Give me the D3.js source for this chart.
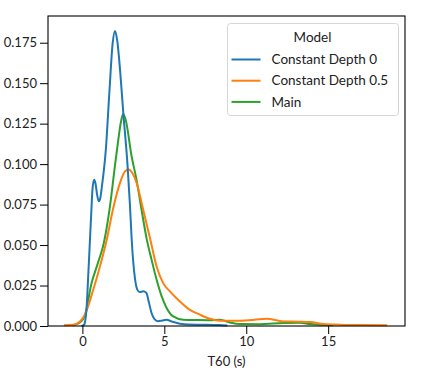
<!DOCTYPE html>
<html>
<head>
<meta charset="utf-8">
<script src="https://cdn.jsdelivr.net/npm/d3@7"></script>
<style>
  body { margin: 0; background: #fff; }
  svg { font-family: Lato, "Open Sans", sans-serif; }
</style>
</head>
<body>
<svg id="chart" width="428" height="370"></svg>
<script>
// KDE curves: T60 (s) vs density
var depth0X = [-0.05, 0.1, 0.15, 0.26, 0.35, 0.46, 0.55, 0.62, 0.72, 0.8, 0.9, 1.0, 1.07, 1.2, 1.43, 1.65, 1.85, 1.99, 2.13, 2.3, 2.5, 2.75, 2.9, 3.0, 3.1, 3.2, 3.35, 3.5, 3.71, 3.9, 4.05, 4.22, 4.4, 4.6, 4.85, 5.14, 5.45, 5.95, 6.5, 7.5, 8.3, 8.85];
var depth0Y = [0.0, 0.0008, 0.002, 0.012, 0.03, 0.053, 0.072, 0.085, 0.0903, 0.088, 0.081, 0.077, 0.078, 0.087, 0.109, 0.145, 0.175, 0.1823, 0.176, 0.158, 0.131, 0.1, 0.075, 0.055, 0.04, 0.03, 0.0225, 0.021, 0.0214, 0.0205, 0.015, 0.008, 0.0042, 0.003, 0.0033, 0.0038, 0.0028, 0.0014, 0.0009, 0.0008, 0.0006, 0.0003];

var depth05X = [-1.13, -0.56, -0.15, 0.15, 0.66, 1.07, 1.48, 1.88, 2.29, 2.6, 2.82, 3.05, 3.31, 3.71, 4.12, 4.53, 4.93, 5.34, 5.95, 6.56, 7.17, 7.78, 8.39, 9.6, 10.5, 11.24, 12.26, 13.28, 13.9, 14.7, 15.7, 17.0, 18.6];
var depth05Y = [0.0005, 0.0008, 0.0028, 0.007, 0.0224, 0.0368, 0.053, 0.0728, 0.0883, 0.0955, 0.0967, 0.0945, 0.0883, 0.0718, 0.0545, 0.0368, 0.0265, 0.0214, 0.0152, 0.01, 0.007, 0.0045, 0.0033, 0.0033, 0.0038, 0.0045, 0.0028, 0.0027, 0.0025, 0.0012, 0.0008, 0.0006, 0.0004];

var mainX = [-0.6, -0.15, 0.15, 0.56, 0.95, 1.3, 1.68, 1.98, 2.19, 2.35, 2.49, 2.65, 3.0, 3.31, 3.61, 3.92, 4.22, 4.53, 4.84, 5.14, 5.54, 6.15, 7.0, 7.78, 8.4, 9.0, 9.6, 10.8, 12.26, 13.28, 13.9, 14.5, 15.3];
var mainY = [0.0005, 0.0022, 0.0064, 0.0265, 0.039, 0.051, 0.0738, 0.0985, 0.115, 0.126, 0.1309, 0.127, 0.105, 0.09, 0.0718, 0.054, 0.041, 0.0286, 0.0183, 0.0111, 0.0059, 0.0039, 0.0037, 0.0036, 0.0039, 0.0022, 0.0012, 0.0011, 0.0018, 0.002, 0.0012, 0.0008, 0.0004];

var models = ['Constant Depth 0', 'Constant Depth 0.5', 'Main'];
var colors = ['#1f77b4', '#ff7f0e', '#2ca02c'];
var xTicks = [0, 5, 10, 15];
var yTicks = [0, 0.025, 0.05, 0.075, 0.1, 0.125, 0.15, 0.175];

(function() {
  var series = [
    {name: models[0], color: colors[0], values: d3.zip(depth0X, depth0Y)},
    {name: models[1], color: colors[1], values: d3.zip(depth05X, depth05Y)},
    {name: models[2], color: colors[2], values: d3.zip(mainX, mainY)}
  ];

  var svg = d3.select('#chart');
  var x0 = 48, x1 = 405, y0 = 16, y1 = 326;

  var x = d3.scaleLinear().domain([-2.1, 19.69]).range([x0, x1]);
  var y = d3.scaleLinear().domain([0, 0.1915]).range([y1, y0]);

  var line = d3.line()
    .x(function(d) { return x(d[0]); })
    .y(function(d) { return y(d[1]); })
    .curve(d3.curveMonotoneX);

  // seaborn draws hue levels in reverse, first level ends up on top
  svg.append('g')
    .selectAll('path')
    .data(series.slice().reverse())
    .join('path')
      .attr('fill', 'none')
      .attr('stroke', function(d) { return d.color; })
      .attr('stroke-width', 2)
      .attr('stroke-linejoin', 'round')
      .attr('d', function(d) { return line(d.values); });

  var xAxis = svg.append('g')
    .attr('transform', 'translate(0,' + y1 + ')')
    .call(d3.axisBottom(x).tickValues(xTicks).tickSize(8).tickPadding(3).tickFormat(d3.format('d')));
  var yAxis = svg.append('g')
    .attr('transform', 'translate(' + x0 + ',0)')
    .call(d3.axisLeft(y).tickValues(yTicks).tickSize(8).tickPadding(3).tickFormat(d3.format('.3f')));

  [xAxis, yAxis].forEach(function(g) {
    g.select('.domain').remove();
    g.selectAll('text').attr('font-size', 13).attr('font-family', 'Lato, sans-serif').attr('fill', '#222');
    g.selectAll('line').attr('stroke', '#000').attr('stroke-width', 1);
  });

  // frame (all four spines)
  svg.append('rect')
    .attr('x', x0).attr('y', y0)
    .attr('width', x1 - x0).attr('height', y1 - y0)
    .attr('fill', 'none').attr('stroke', '#000').attr('stroke-width', 1.1);

  svg.append('text')
    .attr('x', (x0 + x1) / 2).attr('y', 366)
    .attr('text-anchor', 'middle')
    .attr('font-size', 13).attr('fill', '#222')
    .text('T60 (s)');

  // legend
  var legend = svg.append('g');
  legend.append('rect')
    .attr('x', 227.5).attr('y', 23.5).attr('width', 171).attr('height', 92).attr('rx', 3)
    .attr('fill', '#fff').attr('fill-opacity', 0.8).attr('stroke', '#d6d6d6');
  legend.append('text')
    .attr('x', 312.5).attr('y', 41.5).attr('text-anchor', 'middle')
    .attr('font-size', 13.5).attr('fill', '#222').text('Model');

  var items = legend.selectAll('g.item')
    .data(series)
    .join('g')
      .attr('class', 'item')
      .attr('transform', function(d, i) { return 'translate(0,' + (59.5 + i * 21.2) + ')'; });
  items.append('line')
    .attr('x1', 231.5).attr('x2', 260.5)
    .attr('stroke', function(d) { return d.color; }).attr('stroke-width', 2);
  items.append('text')
    .attr('x', 271.5).attr('dy', '0.35em')
    .attr('font-size', 13.5).attr('fill', '#222')
    .text(function(d) { return d.name; });
})();
</script>
</body>
</html>
